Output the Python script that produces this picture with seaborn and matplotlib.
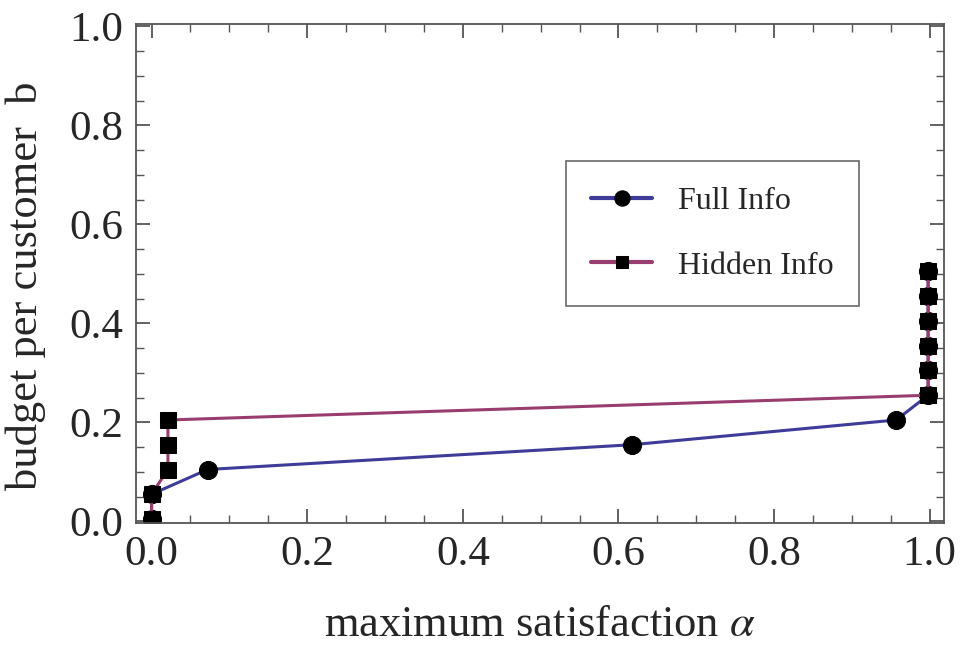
import numpy as np
import pandas as pd
import seaborn as sns
import matplotlib.pyplot as plt
from matplotlib.ticker import MultipleLocator

# values
full_alpha = [0.0, 0.0, 0.072, 0.617, 0.957, 0.998, 0.998, 0.998, 0.998, 0.998, 0.998]
full_b = [0.005, 0.055, 0.105, 0.155, 0.205, 0.255, 0.305, 0.355, 0.405, 0.455, 0.505]
hidden_alpha = [0.0, 0.0, 0.021, 0.021, 0.021, 0.998, 0.998, 0.998, 0.998, 0.998, 0.998]
hidden_b = [0.005, 0.055, 0.105, 0.155, 0.205, 0.255, 0.305, 0.355, 0.405, 0.455, 0.505]

BLUE = "#3d3d99"
PURPLE = "#993d71"

sns.set_style("ticks")
plt.rcParams['font.family'] = ['Liberation Serif', 'DejaVu Serif']
plt.rcParams['mathtext.fontset'] = 'stix'

fig = plt.figure(figsize=(9.6, 6.47), dpi=100)
ax = fig.add_axes([0.1417, 0.1917, 0.8413, 0.7713])

df_full = pd.DataFrame({"alpha": full_alpha, "b": full_b})
df_hidden = pd.DataFrame({"alpha": hidden_alpha, "b": hidden_b})

sns.lineplot(data=df_full, x="alpha", y="b", sort=False, estimator=None, ax=ax,
             color=BLUE, lw=2.2, marker="o", markersize=13, markerfacecolor="black",
             markeredgecolor="black", label="Full Info")
sns.lineplot(data=df_hidden, x="alpha", y="b", sort=False, estimator=None, ax=ax,
             color=PURPLE, lw=2.2, marker="s", markersize=11, markerfacecolor="black",
             markeredgecolor="black", label="Hidden Info")

ax.set_xlim(-0.02, 1.018)
ax.set_ylim(-0.003, 1.005)
ax.xaxis.set_major_locator(MultipleLocator(0.2))
ax.yaxis.set_major_locator(MultipleLocator(0.2))
ax.xaxis.set_minor_locator(MultipleLocator(0.05))
ax.yaxis.set_minor_locator(MultipleLocator(0.05))
ax.xaxis.set_major_formatter(lambda v, p: f"{v:.1f}")
ax.yaxis.set_major_formatter(lambda v, p: f"{v:.1f}")

ax.tick_params(which="both", direction="in", top=True, right=True, color="#555555")
ax.tick_params(which="major", length=10, width=1.3, labelsize=31, pad=9)
ax.tick_params(which="minor", length=6, width=1.0)
for s in ax.spines.values():
    s.set_color("#555555")
    s.set_linewidth(1.3)

ax.set_xlabel(r"maximum satisfaction $\alpha$", fontsize=32, labelpad=22)
ax.set_ylabel("budget per customer  b", fontsize=32)
ax.yaxis.set_label_coords(-0.112, 0.475)

leg = ax.legend(loc="upper left", bbox_to_anchor=(0.532, 0.725), borderaxespad=0,
                fontsize=23, frameon=True, fancybox=False, edgecolor="#444444",
                handlelength=1.9, borderpad=0.8, labelspacing=1.1, handletextpad=0.8,
                markerscale=0.85)
leg.get_frame().set_linewidth(1.2)
for h in leg.get_lines():
    h.set_linewidth(3)

fig.savefig("out.png", dpi=100)
